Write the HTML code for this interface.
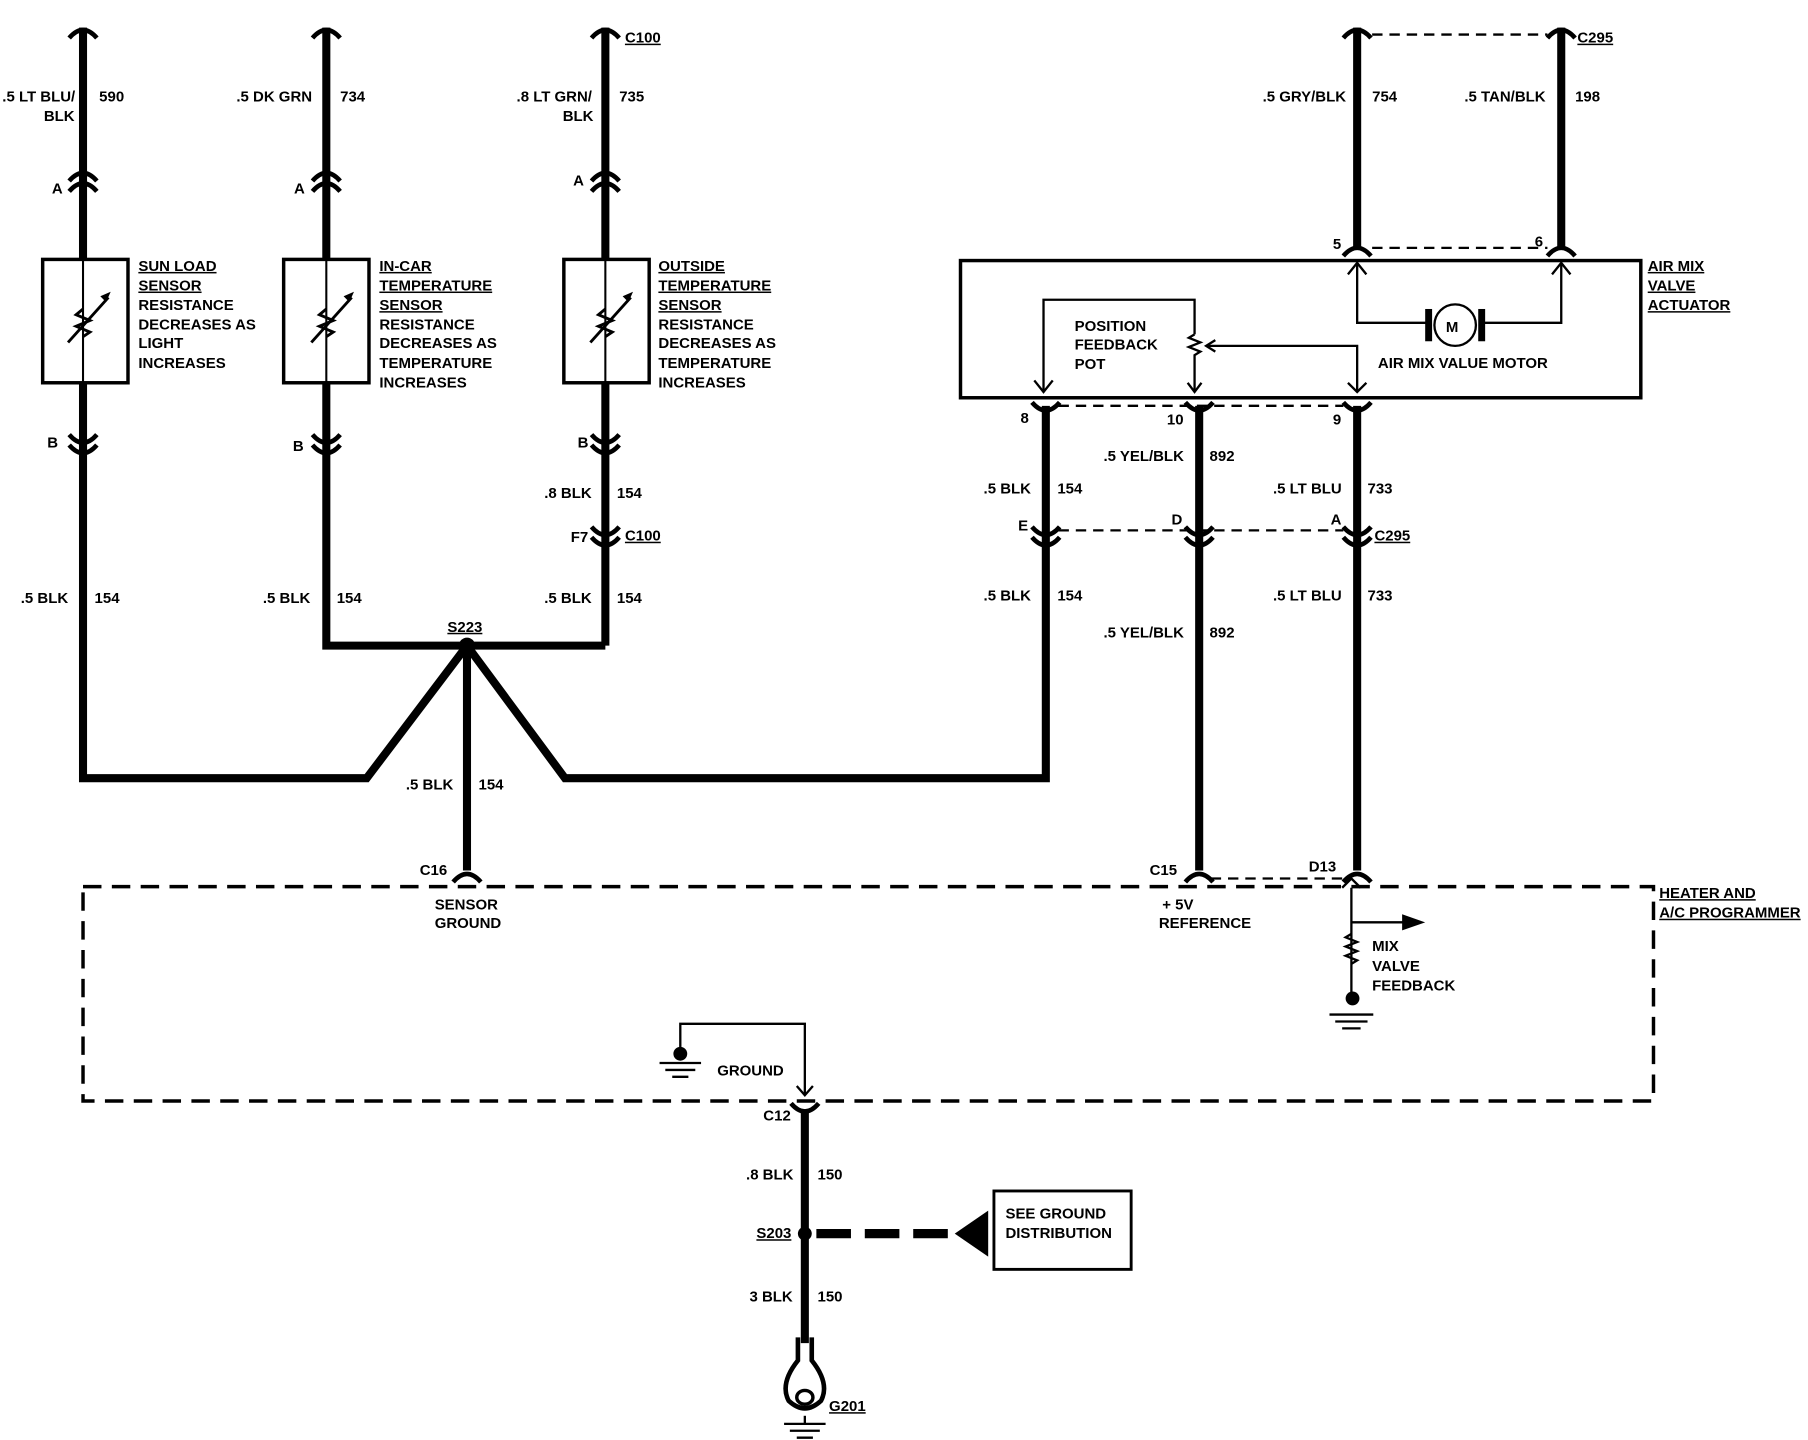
<!DOCTYPE html>
<html><head><style>
html,body{margin:0;padding:0;background:#fff;width:1808px;height:1440px;overflow:hidden}
svg{display:block}
text{font-family:"Liberation Sans",sans-serif;font-weight:bold;font-size:13px;fill:#000}
</style></head><body>
<svg width="1808" height="1440" viewBox="0 0 1568 1249" preserveAspectRatio="none">
<defs>
<path id="cu" d="M-12,5 Q0,-9 12,5" fill="none" stroke="#000" stroke-width="4"/>
<path id="cd" d="M-12,-5 Q0,9 12,-5" fill="none" stroke="#000" stroke-width="4"/>
<path id="ar" d="M0,0 L-9,4 L-4,9 Z" fill="#000"/>
</defs>
<g stroke="#000" stroke-width="7" fill="none" stroke-linejoin="miter">
<path d="M72,24 V225 M72,332 V675 H318 L405,560 L490,675 H907 V352"/>
<path d="M283,24 V225 M283,332 V560 H525 M525,24 V225 M525,332 V560"/>
<path d="M405,560 V755"/>
<path d="M1040,352 V755 M1177,352 V755 M1177,24 V215 M1354,24 V215"/>
<path d="M698,962 V1165"/>
</g>
<g stroke="#000" stroke-width="1.8" fill="none">
<path d="M72,225 V332 M283,225 V332 M525,225 V332"/>
</g>
<g stroke="#000" stroke-width="3" fill="none">
<rect x="37" y="225" width="74" height="107"/>
<rect x="246" y="225" width="74" height="107"/>
<rect x="489" y="225" width="74" height="107"/>
<rect x="833" y="226" width="590" height="119"/>
</g>
<g stroke="#000" stroke-width="2.5" fill="none">
<path d="M72,268 l-6,5 l12,5 l-12,5 l12,5 l-6,4"/>
<path d="M59,297 L94,258"/>
<path d="M283,268 l-6,5 l12,5 l-12,5 l12,5 l-6,4"/>
<path d="M270,297 L305,258"/>
<path d="M525,268 l-6,5 l12,5 l-12,5 l12,5 l-6,4"/>
<path d="M512,297 L547,258"/>
</g>
<use href="#ar" x="96" y="253"/><use href="#ar" x="307" y="253"/><use href="#ar" x="549" y="253"/>
<g>
<use href="#cu" x="72" y="28"/><use href="#cu" x="283" y="28"/><use href="#cu" x="525" y="28"/>
<use href="#cu" x="1177" y="28"/><use href="#cu" x="1354" y="28"/>
<use href="#cu" x="72" y="152"/><use href="#cu" x="72" y="161"/>
<use href="#cu" x="283" y="152"/><use href="#cu" x="283" y="161"/>
<use href="#cu" x="525" y="152"/><use href="#cu" x="525" y="161"/>
<use href="#cd" x="72" y="382"/><use href="#cd" x="72" y="391"/>
<use href="#cd" x="283" y="382"/><use href="#cd" x="283" y="391"/>
<use href="#cd" x="525" y="382"/><use href="#cd" x="525" y="391"/>
<use href="#cd" x="525" y="462"/><use href="#cd" x="525" y="471"/>
<use href="#cu" x="1177" y="217"/><use href="#cu" x="1354" y="217"/>
<use href="#cd" x="907" y="354"/><use href="#cd" x="1040" y="354"/><use href="#cd" x="1177" y="354"/>
<use href="#cd" x="907" y="462"/><use href="#cd" x="907" y="471"/>
<use href="#cd" x="1040" y="462"/><use href="#cd" x="1040" y="471"/>
<use href="#cd" x="1177" y="462"/><use href="#cd" x="1177" y="471"/>
<use href="#cu" x="405" y="760"/><use href="#cu" x="1040" y="760"/><use href="#cu" x="1177" y="760"/>
<use href="#cd" x="698" y="962"/>
</g>
<g stroke="#000" stroke-width="2" stroke-dasharray="9,6" fill="none">
<path d="M1190,30 H1342 M1190,215 H1342 M918,352 H1165 M918,460 H1165 M1050,762 H1165"/>
</g>
<rect x="72" y="769" width="1362" height="186" fill="none" stroke="#000" stroke-width="3" stroke-dasharray="16,9"/>
<g stroke="#000" stroke-width="2" fill="none">
<path d="M1177,228 V280 H1238 M1286,280 H1354 V228"/>
<path d="M1169,238 L1177,228 L1185,238 M1346,238 L1354,228 L1362,238"/>
<path d="M905,340 V260 H1036 V290"/>
<path d="M897,330 L905,340 L913,330"/>
<path d="M1036,290 l-5,3 l10,4 l-10,4 l10,4 l-5,3 V340"/>
<path d="M1030,332 L1036,340 L1042,332"/>
<path d="M1177,340 V300 H1046"/><path d="M1054,295 L1046,300 L1054,305"/>
<path d="M1169,332 L1177,340 L1185,332"/>
<circle cx="1262" cy="282" r="18"/>
</g>
<rect x="1236" y="268" width="6" height="28" fill="#000"/>
<rect x="1282" y="268" width="6" height="28" fill="#000"/>
<text x="1254" y="288" font-size="15">M</text>
<g stroke="#000" stroke-width="2" fill="none">
<path d="M1172,770 V870 M1172,800 H1228"/>
<path d="M1172,810 l-5,3 l10,4 l-10,4 l10,4 l-10,4 l10,4 l-5,3"/>
<path d="M1153,880 H1191 M1158,886 H1186 M1164,892 H1180"/>
<path d="M590,912 V888 H698 V950"/><path d="M691,942 L698,950 L705,942"/>
<path d="M572,922 H608 M577,928 H603 M583,934 H597"/>
<path d="M680,1235 H716 M685,1241 H711 M691,1247 H705"/>
</g>
<path d="M1216,793 L1236,800 L1216,807 Z" fill="#000"/>
<path d="M1164,770 L1172,762 L1180,770" stroke="#000" stroke-width="2" fill="none"/>
<circle cx="1173" cy="866" r="6" fill="#000"/>
<circle cx="590" cy="914" r="6" fill="#000"/>
<circle cx="405" cy="560" r="7" fill="#000"/>
<circle cx="698" cy="1070" r="6" fill="#000"/>
<path d="M708,1070 H830" stroke="#000" stroke-width="8" stroke-dasharray="30,12" fill="none"/>
<path d="M828,1070 L857,1050 V1090 Z" fill="#000"/>
<rect x="862" y="1033" width="119" height="68" fill="none" stroke="#000" stroke-width="2.5"/>
<g stroke="#000" fill="none">
<path d="M692,1160 V1180 Q676,1200 684,1215 Q698,1228 712,1215 Q720,1200 704,1180 V1160" stroke-width="4"/>
<ellipse cx="698" cy="1212" rx="7" ry="6" stroke-width="3"/>
<path d="M698,1228 V1235" stroke-width="2"/>
</g>
<text x="2" y="88">.5 LT BLU/</text><text x="38" y="105">BLK</text><text x="86" y="88">590</text>
<text x="205" y="88">.5 DK GRN</text><text x="295" y="88">734</text>
<text x="448" y="88">.8 LT GRN/</text><text x="488" y="105">BLK</text><text x="537" y="88">735</text>
<text x="542" y="37" text-decoration="underline">C100</text>
<text x="1095" y="88">.5 GRY/BLK</text><text x="1190" y="88">754</text>
<text x="1270" y="88">.5 TAN/BLK</text><text x="1366" y="88">198</text>
<text x="1368" y="37" text-decoration="underline">C295</text>
<text x="45" y="168">A</text><text x="255" y="168">A</text><text x="497" y="161">A</text>
<text x="120" y="235" text-decoration="underline">SUN LOAD</text>
<text x="120" y="252" text-decoration="underline">SENSOR</text>
<text x="120" y="269">RESISTANCE</text><text x="120" y="286">DECREASES AS</text>
<text x="120" y="302">LIGHT</text><text x="120" y="319">INCREASES</text>
<text x="329" y="235" text-decoration="underline">IN-CAR</text>
<text x="329" y="252" text-decoration="underline">TEMPERATURE</text>
<text x="329" y="269" text-decoration="underline">SENSOR</text>
<text x="329" y="286">RESISTANCE</text><text x="329" y="302">DECREASES AS</text>
<text x="329" y="319">TEMPERATURE</text><text x="329" y="336">INCREASES</text>
<text x="571" y="235" text-decoration="underline">OUTSIDE</text>
<text x="571" y="252" text-decoration="underline">TEMPERATURE</text>
<text x="571" y="269" text-decoration="underline">SENSOR</text>
<text x="571" y="286">RESISTANCE</text><text x="571" y="302">DECREASES AS</text>
<text x="571" y="319">TEMPERATURE</text><text x="571" y="336">INCREASES</text>
<text x="1429" y="235" text-decoration="underline">AIR MIX</text>
<text x="1429" y="252" text-decoration="underline">VALVE</text>
<text x="1429" y="269" text-decoration="underline">ACTUATOR</text>
<text x="932" y="287">POSITION</text><text x="932" y="303">FEEDBACK</text><text x="932" y="320">POT</text>
<text x="1195" y="319">AIR MIX VALUE MOTOR</text>
<text x="1156" y="216">5</text><text x="1331" y="214">6</text>
<text x="885" y="367">8</text><text x="1012" y="368">10</text><text x="1156" y="368">9</text>
<text x="41" y="388">B</text><text x="254" y="391">B</text><text x="501" y="388">B</text>
<text x="472" y="432">.8 BLK</text><text x="535" y="432">154</text>
<text x="495" y="470">F7</text><text x="542" y="469" text-decoration="underline">C100</text>
<text x="957" y="400">.5 YEL/BLK</text><text x="1049" y="400">892</text>
<text x="853" y="428">.5 BLK</text><text x="917" y="428">154</text>
<text x="1104" y="428">.5 LT BLU</text><text x="1186" y="428">733</text>
<text x="883" y="460">E</text><text x="1016" y="455">D</text><text x="1154" y="455">A</text>
<text x="1192" y="469" text-decoration="underline">C295</text>
<text x="18" y="523">.5 BLK</text><text x="82" y="523">154</text>
<text x="228" y="523">.5 BLK</text><text x="292" y="523">154</text>
<text x="472" y="523">.5 BLK</text><text x="535" y="523">154</text>
<text x="853" y="521">.5 BLK</text><text x="917" y="521">154</text>
<text x="1104" y="521">.5 LT BLU</text><text x="1186" y="521">733</text>
<text x="957" y="553">.5 YEL/BLK</text><text x="1049" y="553">892</text>
<text x="388" y="548" text-decoration="underline">S223</text>
<text x="352" y="685">.5 BLK</text><text x="415" y="685">154</text>
<text x="364" y="759">C16</text><text x="997" y="759">C15</text><text x="1135" y="756">D13</text>
<text x="377" y="789">SENSOR</text><text x="377" y="805">GROUND</text>
<text x="1008" y="789">+ 5V</text><text x="1005" y="805">REFERENCE</text>
<text x="1439" y="779" text-decoration="underline">HEATER AND</text>
<text x="1439" y="796" text-decoration="underline">A/C PROGRAMMER</text>
<text x="1190" y="825">MIX</text><text x="1190" y="842">VALVE</text><text x="1190" y="859">FEEDBACK</text>
<text x="622" y="933">GROUND</text>
<text x="662" y="972">C12</text>
<text x="647" y="1023">.8 BLK</text><text x="709" y="1023">150</text>
<text x="656" y="1074" text-decoration="underline">S203</text>
<text x="872" y="1057">SEE GROUND</text><text x="872" y="1074">DISTRIBUTION</text>
<text x="650" y="1129">3 BLK</text><text x="709" y="1129">150</text>
<text x="719" y="1224" text-decoration="underline">G201</text>
</svg>
</body></html>
